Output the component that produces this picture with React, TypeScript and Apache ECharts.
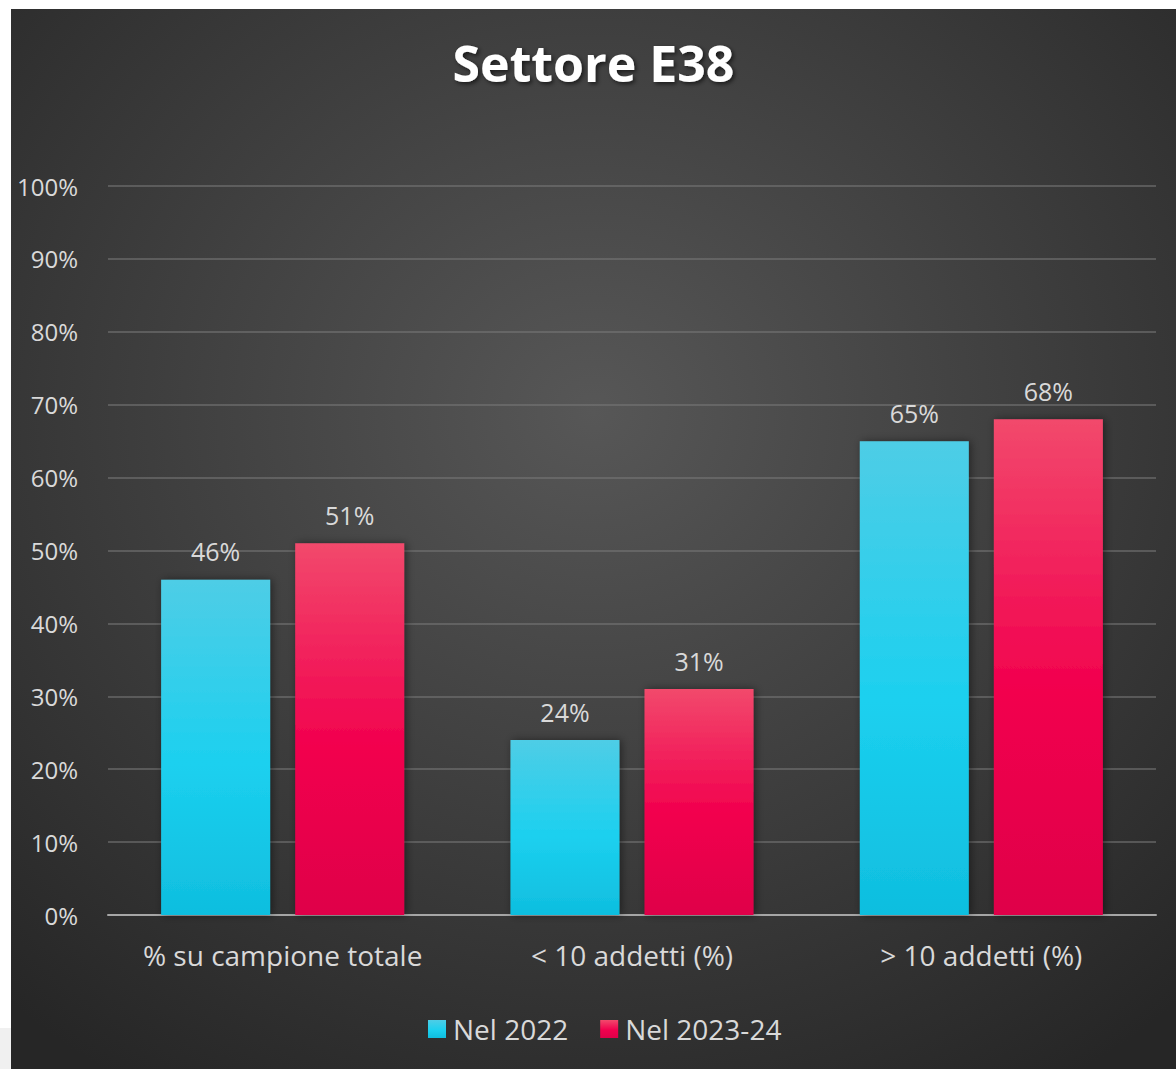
import React, { useEffect, useRef } from "react";
import * as echarts from "echarts";

const categories = ["% su campione totale", "< 10 addetti (%)", "> 10 addetti (%)"];
const seriesNames = ["Nel 2022", "Nel 2023-24"];
const values2022 = [46, 24, 65];
const values2023 = [51, 31, 68];
const titleText = "Settore E38";

const FONT = "'Open Sans', Lato, sans-serif";

export default function App() {
  const ref = useRef<HTMLDivElement>(null);
  useEffect(() => {
    document.body.style.margin = "0";
    const chart = echarts.init(ref.current!, undefined, { renderer: "svg" });
    const cyan = new echarts.graphic.LinearGradient(0, 0, 0, 1, [
      { offset: 0, color: "#4ecde6" },
      { offset: 0.55, color: "#1cd0ef" },
      { offset: 1, color: "#0fbedf" },
    ]);
    const red = new echarts.graphic.LinearGradient(0, 0, 0, 1, [
      { offset: 0, color: "#f2496c" },
      { offset: 0.55, color: "#f2004e" },
      { offset: 1, color: "#df0049" },
    ]);
    const label = {
      show: true,
      position: "top" as const,
      distance: 16,
      formatter: "{c}%",
      color: "#d9d9d9",
      fontSize: 25,
      fontFamily: FONT,
    };
    chart.setOption({
      animation: false,
      backgroundColor: new echarts.graphic.RadialGradient(0.5, 0.38, 0.75, [
        { offset: 0, color: "#575757" },
        { offset: 1, color: "#262626" },
      ]),
      title: {
        text: titleText,
        left: "center",
        top: 24,
        textStyle: {
          color: "#ffffff",
          fontSize: 50,
          fontWeight: "bold",
          fontFamily: FONT,
          textShadowColor: "rgba(0,0,0,0.6)",
          textShadowBlur: 4,
          textShadowOffsetX: 2,
          textShadowOffsetY: 2,
        },
      },
      legend: {
        bottom: 21,
        left: 412,
        itemWidth: 18,
        itemHeight: 18,
        itemGap: 32,
        icon: "rect",
        textStyle: { color: "#d9d9d9", fontSize: 28, fontFamily: FONT, padding: [0, 0, 0, 2] },
        data: seriesNames,
      },
      grid: { left: 97, right: 20, top: 177, bottom: 154, containLabel: false },
      xAxis: {
        type: "category",
        data: categories,
        axisLine: { lineStyle: { color: "#a6a6a6", width: 2 } },
        axisTick: { show: false },
        axisLabel: { interval: 0, color: "#d9d9d9", fontSize: 28, fontFamily: FONT, margin: 26 },
      },
      yAxis: {
        type: "value",
        min: 0,
        max: 100,
        interval: 10,
        axisLine: { show: false },
        axisTick: { show: false },
        splitLine: { lineStyle: { color: "rgba(120,120,120,0.55)", width: 2 } },
        axisLabel: {
          formatter: "{value}%",
          color: "#d9d9d9",
          fontSize: 24,
          fontFamily: FONT,
          margin: 30,
        },
      },
      series: [
        {
          name: seriesNames[0],
          type: "bar",
          data: values2022,
          barWidth: 109,
          barGap: "23%",
          itemStyle: {
            color: cyan,
            shadowColor: "rgba(0,0,0,0.45)",
            shadowBlur: 8,
            shadowOffsetX: 2,
            shadowOffsetY: 0,
          },
          label,
        },
        {
          name: seriesNames[1],
          type: "bar",
          data: values2023,
          barWidth: 109,
          itemStyle: {
            color: red,
            shadowColor: "rgba(0,0,0,0.45)",
            shadowBlur: 8,
            shadowOffsetX: 2,
            shadowOffsetY: 0,
          },
          label,
        },
      ],
    });
    return () => chart.dispose();
  }, []);
  return (
    <div style={{ position: "relative", width: 1176, height: 1069, background: "#ffffff", overflow: "hidden" }}>
      <div style={{ position: "absolute", left: 0, top: 1028, width: 11, height: 41, background: "#f0f0f0" }} />
      <div ref={ref} style={{ position: "absolute", left: 11, top: 9, width: 1165, height: 1060 }} />
    </div>
  );
}
